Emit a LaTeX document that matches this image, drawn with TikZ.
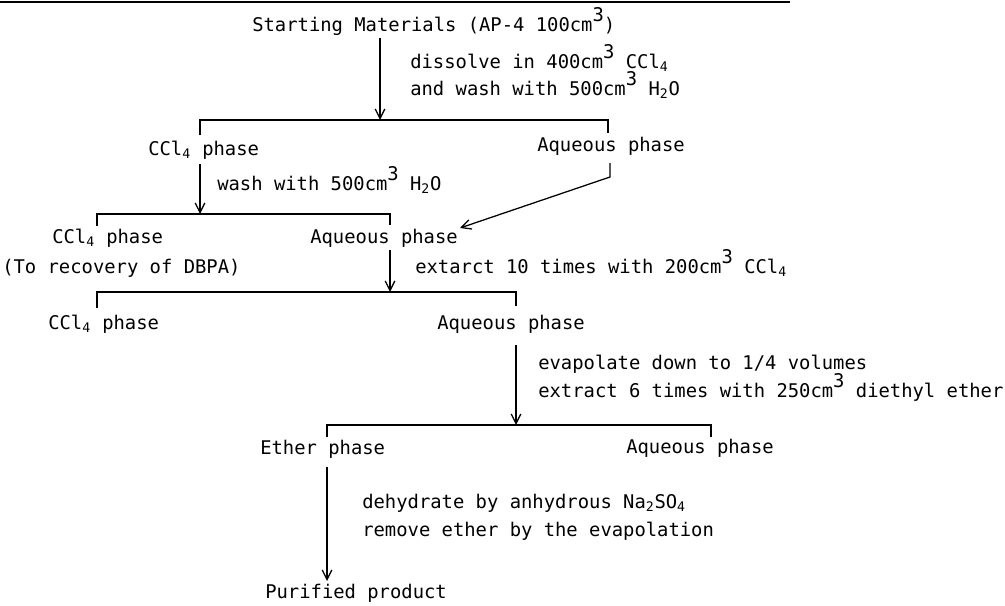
\documentclass[tikz,border=0pt]{standalone}
\usepackage{fontspec}
\setmainfont{DejaVu Sans Mono}
\usetikzlibrary{arrows.meta}

\newcommand{\cmcube}{cm\raisebox{0.5em}{3}}
\newcommand{\ccl}{CCl\textsubscript{4}}

\begin{document}
\begin{tikzpicture}[x=0.025cm, y=-0.025cm,
    txt/.style={anchor=base west, inner sep=0pt, font=\fontsize{13.4}{15}\selectfont},
    arr/.style={-{Straight Barb[length=2.4mm, width=2.4mm]}, line width=0.9pt},
    brk/.style={line width=0.9pt},
  ]
  \useasboundingbox (0,0) rectangle (1005,605);
  % edge of the scanned page
  \draw[line width=2pt] (0,2) -- (790,2);

  % texts
  \node[txt] (start) at (252,31) {Starting Materials (AP-4 100\cmcube)};
  \node[txt] (dissolve) at (410,68) {dissolve in 400\cmcube\ \ccl};
  \node[txt] (washa) at (410,95) {and wash with 500\cmcube\ H\textsubscript{2}O};
  \node[txt] (ccla) at (148,155) {\ccl\ phase};
  \node[txt] (aqa) at (537,151) {Aqueous phase};
  \node[txt] (washb) at (217,190) {wash with 500\cmcube\ H\textsubscript{2}O};
  \node[txt] (cclb) at (52,243) {\ccl\ phase};
  \node[txt] (aqb) at (310,243) {Aqueous phase};
  \node[txt] (dbpa) at (2,273) {(To recovery of DBPA)};
  \node[txt] (extc) at (415,273) {extarct 10 times with 200\cmcube\ \ccl};
  \node[txt] (cclc) at (48,329) {\ccl\ phase};
  \node[txt] (aqc) at (437,329) {Aqueous phase};
  \node[txt] (evap) at (538,369) {evapolate down to 1/4 volumes};
  \node[txt] (extd) at (538,397) {extract 6 times with 250\cmcube\ diethyl ether};
  \node[txt] (ether) at (260,454) {Ether phase};
  \node[txt] (aqd) at (626,453) {Aqueous phase};
  \node[txt] (dehyd) at (362,508) {dehydrate by anhydrous Na\textsubscript{2}SO\textsubscript{4}};
  \node[txt] (remove) at (362,536) {remove ether by the evapolation};
  \node[txt] (product) at (265,598) {Purified product};

  % brackets
  \coordinate (b1l) at (200,120);
  \coordinate (b1r) at (608,120);
  \coordinate (b2l) at (97,214);
  \coordinate (b2r) at (390,214);
  \coordinate (b3l) at (97,292);
  \coordinate (b3r) at (516,292);
  \coordinate (b4l) at (327,425);
  \coordinate (b4r) at (711,425);
  \draw[brk] ([yshift=-15*0.025cm]b1l) -- (b1l) -- (b1r) -- ([yshift=-13*0.025cm]b1r);
  \draw[brk] ([yshift=-12*0.025cm]b2l) -- (b2l) -- (b2r) -- ([yshift=-11*0.025cm]b2r);
  \draw[brk] ([yshift=-16*0.025cm]b3l) -- (b3l) -- (b3r) -- ([yshift=-14*0.025cm]b3r);
  \draw[brk] ([yshift=-12*0.025cm]b4l) -- (b4l) -- (b4r) -- ([yshift=-12*0.025cm]b4r);

  % arrows
  \coordinate (a1) at (380,38);
  \coordinate (a2) at (200,164);
  \coordinate (a3) at (390,250);
  \coordinate (a4) at (516,345);
  \coordinate (a5) at (327,467);
  \coordinate (a6) at (327,581);
  \coordinate (d0) at (610,163);
  \coordinate (d1) at (610,177);
  \coordinate (d2) at (460,228);
  \draw[arr] (a1) -- (a1 |- b1l);
  \draw[arr] (a2) -- (a2 |- b2l);
  \draw[arr] (a3) -- (a3 |- b3l);
  \draw[arr] (a4) -- (a4 |- b4l);
  \draw[arr] (a5) -- (a6);
  \draw[arr] (d0) -- (d1) -- (d2);
\end{tikzpicture}
\end{document}
